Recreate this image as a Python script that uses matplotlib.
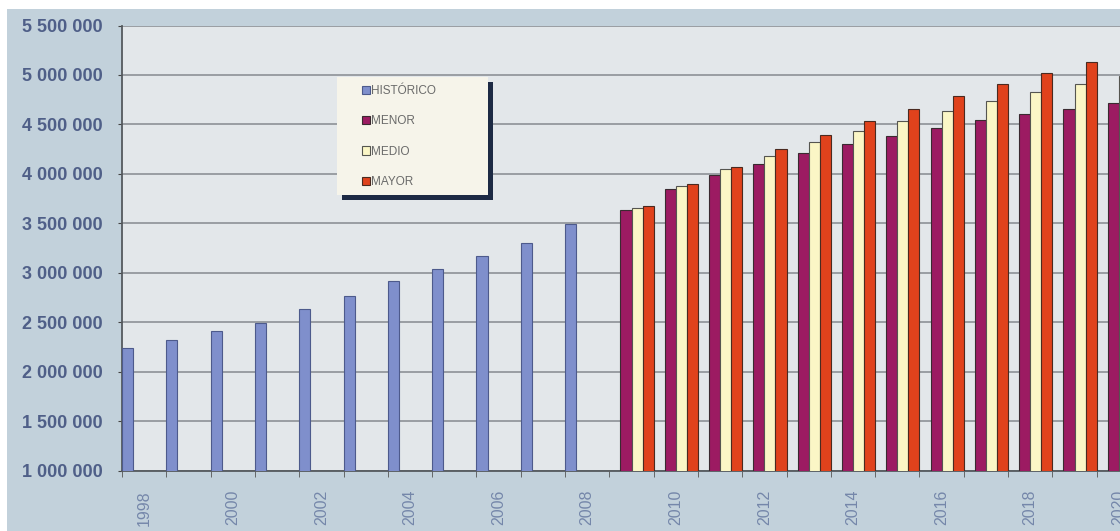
import numpy as np
import matplotlib
matplotlib.use('Agg')
import matplotlib.pyplot as plt
from matplotlib.patches import Rectangle

plt.rcParams['font.family'] = ['Liberation Sans', 'DejaVu Sans']

# datos
years = list(range(1998, 2021))
historico = [2240000, 2320000, 2410000, 2490000, 2630000, 2760000, 2920000,
             3040000, 3170000, 3300000, 3490000]
menor = [3634000, 3843000, 3988000, 4099000, 4213000, 4298000, 4382000,
         4466000, 4541000, 4605000, 4659000, 4719000]
medio = [3657000, 3880000, 4045000, 4180000, 4318000, 4436000, 4537000,
         4635000, 4739000, 4824000, 4905000, 4990000]
mayor = [3674000, 3894000, 4072000, 4251000, 4395000, 4537000, 4655000,
         4787000, 4908000, 5022000, 5130000, 5240000]
series_names = ['HISTÓRICO', 'MENOR', 'MEDIO', 'MAYOR']

colores = ['#7f8fcc', '#9c1b62', '#fbf6c6', '#e0421c']
bordes = ['#4d5a8c', '#3a2a30', '#555550', '#4a2a20']

W, H = 1120, 531
fig = plt.figure(figsize=(W / 100, H / 100), dpi=100, facecolor='#c2d1db')
# margenes blancos arriba e izquierda
fig.patches.append(Rectangle((0, 1 - 9 / H), 1, 9 / H, transform=fig.transFigure,
                             facecolor='white', edgecolor='none'))
fig.patches.append(Rectangle((0, 0), 7 / W, 1, transform=fig.transFigure,
                             facecolor='white', edgecolor='none'))

ax = fig.add_axes([122 / W, 1 - 470.5 / H, 1019 / W, 445 / H])
ax.set_facecolor('#e3e7ea')

x_hist = np.arange(len(historico))
x_proj = np.arange(len(historico), len(years))
w = 0.25
ax.bar(x_hist - 1.5 * w, historico, width=w, color=colores[0], edgecolor=bordes[0],
       linewidth=0.8, label=series_names[0], zorder=3)
ax.bar(x_proj - 0.5 * w, menor, width=w, color=colores[1], edgecolor=bordes[1],
       linewidth=0.8, label=series_names[1], zorder=3)
ax.bar(x_proj + 0.5 * w, medio, width=w, color=colores[2], edgecolor=bordes[2],
       linewidth=0.8, label=series_names[2], zorder=3)
ax.bar(x_proj + 1.5 * w, mayor, width=w, color=colores[3], edgecolor=bordes[3],
       linewidth=0.8, label=series_names[3], zorder=3)

ax.set_xlim(-0.5, len(years) - 0.5)
ax.set_ylim(1000000, 5500000)

yt = np.arange(1000000, 5500001, 500000)
ax.set_yticks(yt)
ax.set_yticklabels([f'{v:,.0f}'.replace(',', ' ') for v in yt],
                   fontsize=13, fontweight='bold', color='#4f5f88')
ax.grid(axis='y', color='#8d9196', linewidth=1.2, zorder=1)

idx = [i for i, y in enumerate(years) if y % 2 == 0]
ax.set_xticks(idx)
ax.set_xticklabels([str(years[i]) for i in idx], rotation=90, fontsize=11.5,
                   color='#7587aa')
ax.set_xticks(np.arange(-0.5, len(years)), minor=True)
ax.tick_params(axis='x', which='major', length=0, pad=14)
ax.tick_params(axis='x', which='minor', length=4, color='#555555')
ax.tick_params(axis='y', length=3, color='#444444', pad=11)

for s in ['top', 'right']:
    ax.spines[s].set_visible(False)
ax.spines['left'].set_color('#555a5e')
ax.spines['left'].set_linewidth(1.3)
ax.spines['bottom'].set_color('#555a5e')
ax.spines['bottom'].set_linewidth(1.3)

# caja de la leyenda con sombra
bx0, by0, bx1, by1 = 337, 77, 488, 195
bw, bh = (bx1 - bx0) / W, (by1 - by0) / H
ax.add_patch(Rectangle(((bx0 + 5) / W, 1 - (by1 + 5) / H), bw, bh,
                       transform=fig.transFigure, facecolor='#1d2a44',
                       edgecolor='none', zorder=6, clip_on=False))
ax.add_patch(Rectangle((bx0 / W, 1 - by1 / H), bw, bh,
                       transform=fig.transFigure, facecolor='#f6f4ea',
                       edgecolor='none', zorder=7, clip_on=False))

leg = ax.legend(loc='upper left', bbox_to_anchor=(362 / W, 1 - 85 / H),
                bbox_transform=fig.transFigure, fontsize=8.5, frameon=False,
                labelspacing=1.55, handlelength=0.7, handleheight=0.7,
                handletextpad=0.1, borderpad=0, borderaxespad=0,
                labelcolor='#6a6a6a')
leg.set_zorder(8)

fig.savefig('out.png', dpi=100, facecolor=fig.get_facecolor())
